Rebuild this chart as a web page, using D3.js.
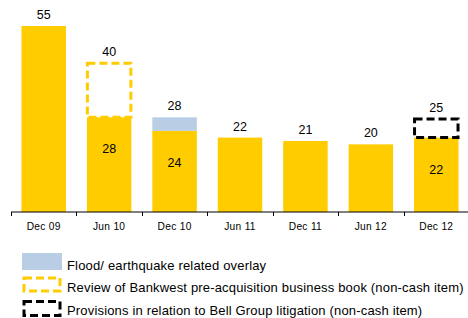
<!DOCTYPE html>
<html>
<head>
<meta charset="utf-8">
<script src="https://cdn.jsdelivr.net/npm/d3@7"></script>
<style>
  body { margin: 0; background: #fff; }
  svg text { font-family: "Liberation Sans", Arial, sans-serif; fill: #000; }
</style>
</head>
<body>
<svg id="chart" width="468" height="318"></svg>
<script>
// data
var periods = ['Dec 09', 'Jun 10', 'Dec 10', 'Jun 11', 'Dec 11', 'Jun 12', 'Dec 12'];
var baseValues = [55, 28, 24, 22, 21, 20, 22];
var overlayValues = [0, 0, 4, 0, 0, 0, 0];            // flood / earthquake overlay
var bankwestBoxTop = [null, 44, null, null, null, null, null];   // drawn extent of dashed box
var bellBoxTop = [null, null, null, null, null, null, 27.5];
var totalLabels = ['55', '40', '28', '22', '21', '20', '25'];
var innerLabels = [null, '28', '24', null, null, null, '22'];
var legendItems = ['Flood/ earthquake related overlay',
  'Review of Bankwest pre-acquisition business book (non-cash item)',
  'Provisions in relation to Bell Group litigation (non-cash item)'];

var yellow = '#FFCC00', blue = '#B9CDE5';

var svg = d3.select('#chart');

var x = d3.scaleBand().domain(periods).range([11, 469]).paddingInner(0.32).paddingOuter(0.16);
var y = d3.scaleLinear().domain([0, 55]).range([212, 26]);

var g = svg.append('g');

// yellow base bars
g.selectAll('rect.base').data(periods).enter().append('rect')
  .attr('x', function(d) { return x(d); })
  .attr('width', x.bandwidth())
  .attr('y', function(d, i) { return y(baseValues[i]); })
  .attr('height', function(d, i) { return y(0) - y(baseValues[i]); })
  .style('fill', yellow);

// blue overlay
g.selectAll('rect.over').data(periods.filter(function(d, i) { return overlayValues[i] > 0; })).enter().append('rect')
  .attr('x', function(d) { return x(d); })
  .attr('width', x.bandwidth())
  .attr('y', function(d) { var i = periods.indexOf(d); return y(baseValues[i] + overlayValues[i]); })
  .attr('height', function(d) { var i = periods.indexOf(d); return y(baseValues[i]) - y(baseValues[i] + overlayValues[i]); })
  .style('fill', blue);

function dashedBoxes(tops, color) {
  periods.forEach(function(d, i) {
    if (tops[i] == null) return;
    g.append('rect')
      .attr('x', x(d) + 0.5)
      .attr('width', x.bandwidth() - 1)
      .attr('y', y(tops[i]))
      .attr('height', y(baseValues[i]) - y(tops[i]))
      .style('fill', 'none')
      .style('stroke', color)
      .style('stroke-width', 3)
      .style('stroke-dasharray', '8,4');
  });
}
dashedBoxes(bankwestBoxTop, yellow);
dashedBoxes(bellBoxTop, '#000');

// total labels above the highest drawn mark
g.selectAll('text.total').data(periods).enter().append('text')
  .attr('x', function(d) { return x(d) + x.bandwidth() / 2; })
  .attr('y', function(d, i) {
    var top = baseValues[i] + overlayValues[i];
    if (bankwestBoxTop[i] != null) top = bankwestBoxTop[i];
    if (bellBoxTop[i] != null) top = bellBoxTop[i];
    return y(top) - 7;
  })
  .attr('text-anchor', 'middle')
  .style('font-size', '12.5px')
  .text(function(d, i) { return totalLabels[i]; });

// labels inside the yellow bars
g.selectAll('text.inner').data(periods).enter().append('text')
  .attr('x', function(d) { return x(d) + x.bandwidth() / 2; })
  .attr('y', function(d, i) { return y(baseValues[i]) + 36; })
  .attr('text-anchor', 'middle')
  .style('font-size', '12.5px')
  .text(function(d, i) { return innerLabels[i] || ''; });

// x axis
var axis = svg.append('g').attr('transform', 'translate(0,212)');
axis.append('line').attr('x1', 11).attr('x2', 468).attr('y1', 0).attr('y2', 0)
  .style('stroke', '#000').style('stroke-width', 1);
var bounds = periods.map(function(d) { return x(d) - x.step() * x.paddingInner() / 2; });
axis.selectAll('line.tick').data(bounds).enter().append('line')
  .attr('x1', function(d) { return Math.round(d) + 0.5; })
  .attr('x2', function(d) { return Math.round(d) + 0.5; })
  .attr('y1', 0).attr('y2', 4)
  .style('stroke', '#000').style('stroke-width', 1);
axis.selectAll('text').data(periods).enter().append('text')
  .attr('x', function(d) { return x(d) + x.bandwidth() / 2; })
  .attr('y', 18)
  .attr('text-anchor', 'middle')
  .style('font-size', '10.2px')
  .style('letter-spacing', '0.3px')
  .text(function(d) { return d; });

// legend
var legend = svg.append('g');
legend.append('rect').attr('x', 22).attr('y', 253).attr('width', 40).attr('height', 17).style('fill', blue);
legend.append('rect').attr('x', 24).attr('y', 278).attr('width', 36).attr('height', 13)
  .style('fill', 'none').style('stroke', yellow).style('stroke-width', 3).style('stroke-dasharray', '8,4');
legend.append('rect').attr('x', 24).attr('y', 301.5).attr('width', 36).attr('height', 14)
  .style('fill', 'none').style('stroke', '#000').style('stroke-width', 3).style('stroke-dasharray', '8,4');
legend.selectAll('text').data(legendItems).enter().append('text')
  .attr('x', 67)
  .attr('y', function(d, i) { return [269.5, 292, 315][i]; })
  .style('font-size', '13px')
  .style('letter-spacing', '0.17px')
  .text(function(d) { return d; });
</script>
</body>
</html>
